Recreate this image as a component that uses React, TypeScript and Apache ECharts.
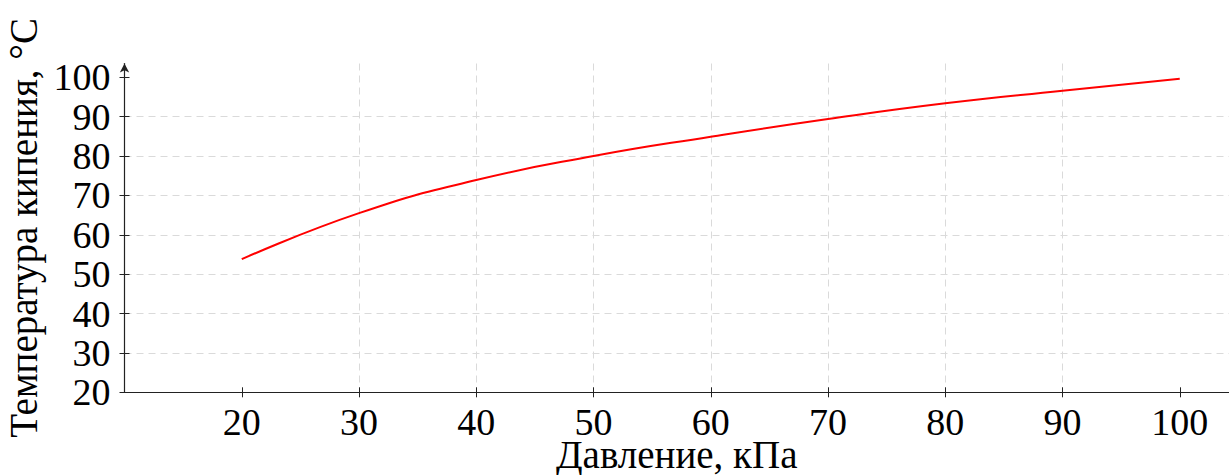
import React, { useEffect, useRef } from "react";
import * as echarts from "echarts";

const pressure = [20, 30, 40, 50, 60, 70, 80, 90, 100];
const boilingTemp = [53.8, 65.5, 73.9, 80.0, 84.9, 89.4, 93.4, 96.6, 99.6];
const xTicks = [20, 30, 40, 50, 60, 70, 80, 90, 100];
const yTicks = [20, 30, 40, 50, 60, 70, 80, 90, 100];
const xTitle = "Давление, кПа";
const yTitle = "Температура кипения, °C";

const FONT = "'Liberation Serif', 'DejaVu Serif', serif";

export default function App() {
  const ref = useRef<HTMLDivElement>(null);
  useEffect(() => {
    document.body.style.margin = "0";
    const chart = echarts.init(ref.current!, null, { renderer: "svg" });
    const gridLine = { show: true, lineStyle: { color: "#dadada", width: 1, type: [7, 5] as any } };
    chart.setOption({
      animation: false,
      backgroundColor: "#ffffff",
      grid: { left: 124.5, right: 0, top: 63.5, bottom: 82.7, containLabel: false, outerBoundsMode: "none" },
      xAxis: [
        {
          type: "value",
          min: 10,
          max: 104.2,
          interval: 10,
          name: xTitle,
          nameLocation: "middle",
          nameGap: 46,
          nameMoveOverlap: false,
          nameTextStyle: { fontFamily: FONT, fontSize: 39, lineHeight: 32, color: "#000" },
          axisLine: { show: true, lineStyle: { color: "#222", width: 1.2 } },
          axisTick: { show: true, length: 5, lineStyle: { color: "#222" }, customValues: xTicks },
          axisLabel: {
            show: true,
            customValues: xTicks,
            margin: 14,
            lineHeight: 32,
            fontFamily: FONT,
            fontSize: 38,
            color: "#000",
          },
          splitLine: { ...gridLine, showMinLine: false, showMaxLine: false },
        },
        {
          type: "value",
          position: "bottom",
          min: 10,
          max: 104.2,
          interval: 10,
          axisLine: { show: false },
          axisTick: { show: true, inside: true, length: 5, lineStyle: { color: "#222" }, customValues: xTicks },
          axisLabel: { show: false },
          splitLine: { show: false },
        },
      ],
      yAxis: [
        {
          type: "value",
          min: 20,
          max: 103.5,
          interval: 10,
          name: yTitle,
          nameLocation: "middle",
          nameGap: 77,
          nameRotate: 90,
          nameTextStyle: { fontFamily: FONT, fontSize: 39, color: "#000" },
          axisLine: {
            show: true,
            symbol: ["none", "arrow"],
            symbolSize: [7, 9],
            lineStyle: { color: "#222", width: 1.2 },
          },
          axisTick: { show: true, length: 5, lineStyle: { color: "#222" }, customValues: yTicks },
          axisLabel: {
            show: true,
            customValues: yTicks,
            margin: 14,
            fontFamily: FONT,
            fontSize: 38,
            color: "#000",
          },
          splitLine: { ...gridLine, showMinLine: false, showMaxLine: false },
        },
        {
          type: "value",
          position: "left",
          min: 20,
          max: 103.5,
          interval: 10,
          axisLine: { show: false },
          axisTick: { show: true, inside: true, length: 5, lineStyle: { color: "#222" }, customValues: yTicks },
          axisLabel: { show: false },
          splitLine: { show: false },
        },
      ],
      series: [
        {
          type: "line",
          data: pressure.map((p, i) => [p, boilingTemp[i]]),
          smooth: 0.5,
          showSymbol: false,
          lineStyle: { color: "#ff0000", width: 2 },
        },
      ],
    });
    return () => chart.dispose();
  }, []);
  return <div ref={ref} style={{ width: 1229, height: 475 }} />;
}
